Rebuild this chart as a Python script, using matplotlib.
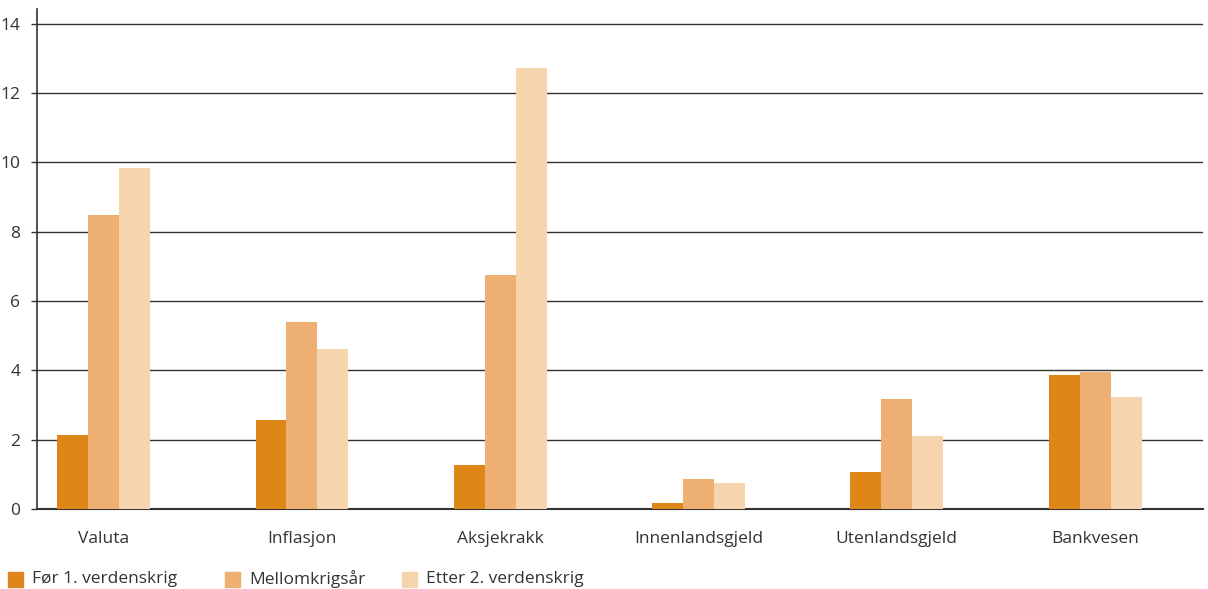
import matplotlib.pyplot as plt
import numpy as np
from matplotlib.patches import Rectangle

plt.rcParams['font.family'] = ['Open Sans', 'DejaVu Sans']

kategorier = ['Valuta', 'Inflasjon', 'Aksjekrakk', 'Innenlandsgjeld', 'Utenlandsgjeld', 'Bankvesen']
serier = ['Før 1. verdenskrig', 'Mellomkrigsår', 'Etter 2. verdenskrig']
for_ww1 = [2.14, 2.57, 1.27, 0.17, 1.07, 3.87]
mellomkrig = [8.49, 5.40, 6.76, 0.87, 3.18, 3.95]
etter_ww2 = [9.84, 4.62, 12.73, 0.75, 2.11, 3.23]
farger = ['#DE8618', '#EDB072', '#F6D4AE']

fig = plt.figure(figsize=(12.08, 5.89), dpi=100)
ax = fig.add_axes([37/1208, 1 - 509/589, 1166/1208, 500/589])

x = np.arange(len(kategorier))
w = 0.156
for i, (verdier, farge) in enumerate(zip([for_ww1, mellomkrig, etter_ww2], farger)):
    ax.bar(x + (i - 1) * w, verdier, width=w, color=farge, zorder=3)

ax.set_xlim(-0.336, 5.544)
ax.set_ylim(0, 14.43)
ax.set_yticks(range(0, 15, 2))
ax.yaxis.grid(True, color='#333333', linewidth=1)
ax.set_axisbelow(True)
ax.set_xticks(x)
ax.set_xticklabels(kategorier)
ax.tick_params(axis='x', length=0, pad=16, labelsize=12.5, labelcolor='#333333')
ax.tick_params(axis='y', length=4, width=1, color='#333333', pad=8, labelsize=12.5, labelcolor='#333333')

for s in ['top', 'right']:
    ax.spines[s].set_visible(False)
ax.spines['left'].set_color('#333333')
ax.spines['bottom'].set_color('#333333')
ax.spines['left'].set_linewidth(1.2)
ax.spines['bottom'].set_linewidth(1.5)

# forklaring nederst
posisjoner = [8, 225, 402]
for px, navn, farge in zip(posisjoner, serier, farger):
    fig.patches.append(Rectangle((px / 1208, 1 - 587 / 589), 15 / 1208, 15 / 589,
                                 transform=fig.transFigure, color=farge, figure=fig))
    fig.text((px + 24) / 1208, 1 - 579 / 589, navn, fontsize=12.5, color='#333333', va='center')

fig.savefig('out.png', dpi=100)
